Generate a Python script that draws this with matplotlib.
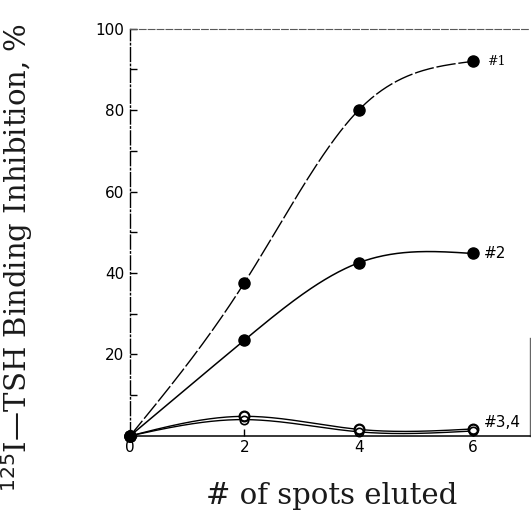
import numpy as np
import matplotlib as mpl
mpl.use("Agg")
import matplotlib.pyplot as plt
from matplotlib.ticker import MultipleLocator


mpl.rcParams.update({'font.family': 'DejaVu Sans', 'axes.unicode_minus': False})

# data
spots = [0, 2, 4, 6]
spot1 = [0, 37.6, 80, 92]
spot2 = [0, 23.5, 42.5, 44.8]
spot3 = [0, 4.8, 1.6, 1.7]
spot4 = [0, 4.0, 1.0, 1.2]
labels = ["#1", "#2", "#3,4"]


def natural_spline(x, y, n=200):
    """
    natural cubic spline through the points, only used for drawing the curve
    """
    x = np.asarray(x, float)
    y = np.asarray(y, float)
    k = len(x)
    h = np.diff(x)
    A = np.zeros((k, k))
    b = np.zeros(k)
    A[0, 0] = A[-1, -1] = 1
    for i in range(1, k - 1):
        A[i, i - 1] = h[i - 1]
        A[i, i] = 2 * (h[i - 1] + h[i])
        A[i, i + 1] = h[i]
        b[i] = 6 * ((y[i + 1] - y[i]) / h[i] - (y[i] - y[i - 1]) / h[i - 1])
    M = np.linalg.solve(A, b)
    xs = np.linspace(x[0], x[-1], n)
    idx = np.clip(np.searchsorted(x, xs) - 1, 0, k - 2)
    x0, x1 = x[idx], x[idx + 1]
    hh = x1 - x0
    t0 = x1 - xs
    t1 = xs - x0
    ys = (M[idx] * t0**3 / (6 * hh) + M[idx + 1] * t1**3 / (6 * hh)
          + (y[idx] / hh - M[idx] * hh / 6) * t0
          + (y[idx + 1] / hh - M[idx + 1] * hh / 6) * t1)
    return xs, ys


fig = plt.figure(figsize=(5.31, 5.14), dpi=100)
ax = fig.add_axes([0.245, 0.152, 0.753, 0.792])

xs, ys = natural_spline(spots, spot1)
ax.plot(xs, ys, color="k", lw=1.0, dashes=(14, 2), clip_on=False)
xs, ys = natural_spline(spots, spot2)
ax.plot(xs, ys, color="k", lw=1.1, clip_on=False)
xs, ys = natural_spline(spots, spot3)
ax.plot(xs, ys, color="k", lw=1.0, clip_on=False)
xs, ys = natural_spline(spots, spot4)
ax.plot(xs, ys, color="k", lw=1.0, clip_on=False)

ax.plot(spots, spot1, 'o', color="k", ms=8, clip_on=False, zorder=5)
ax.plot(spots, spot2, 'o', color="k", ms=8, clip_on=False, zorder=5)
ax.plot(spots[1:], spot3[1:], 'o', mfc="white", mec="k", mew=1.6, ms=7,
        clip_on=False, zorder=5)
ax.plot(spots[1:], spot4[1:], 'o', mfc="none", mec="k", mew=1.2, ms=6,
        linestyle="none", clip_on=False, zorder=6)
ax.plot([0], [0], 'o', color="k", ms=8, clip_on=False, zorder=7)

ax.text(6.25, spot1[-1], labels[0], fontsize=9, family="DejaVu Serif",
        va="center")
ax.text(6.2, spot2[-1], labels[1], fontsize=11, va="center")
ax.text(6.2, spot3[-1] + 1.5, labels[2], fontsize=11, va="center")

ax.set_xlim(0, 7)
ax.set_ylim(0, 100)
ax.set_xticks([0, 2, 4, 6])
ax.set_yticks([20, 40, 60, 80, 100])
ax.yaxis.set_minor_locator(MultipleLocator(10))
ax.tick_params(axis='both', which='both', direction='in', labelsize=11,
               width=1.0)
ax.tick_params(axis='y', which='both', length=5, pad=4)
ax.tick_params(axis='x', which='both', length=5, pad=3)
ax.tick_params(axis='x', which='minor', length=0)

ax.spines['left'].set_linestyle((0, (10, 2, 1, 2)))
ax.spines['left'].set_linewidth(1.0)
ax.spines['top'].set_linestyle((0, (6, 2)))
ax.spines['top'].set_linewidth(0.8)
ax.spines['top'].set_color("0.35")
ax.spines['bottom'].set_linewidth(1.1)
ax.spines['right'].set_bounds(0, 24)
ax.spines['right'].set_linewidth(1.0)
ax.spines['right'].set_color("0.4")

fig.text(17 / 531, 1 - 258 / 514, "$^{125}$I\u2014TSH Binding Inhibition, %",
         rotation=90, ha="center", va="center", fontsize=21,
         family="DejaVu Serif", color="0.1")
fig.text(332 / 531, 1 - 496 / 514, "# of spots eluted", ha="center",
         va="center", fontsize=21, family="DejaVu Serif", color="0.1")

plt.savefig("out.png", dpi=100)
plt.close()
